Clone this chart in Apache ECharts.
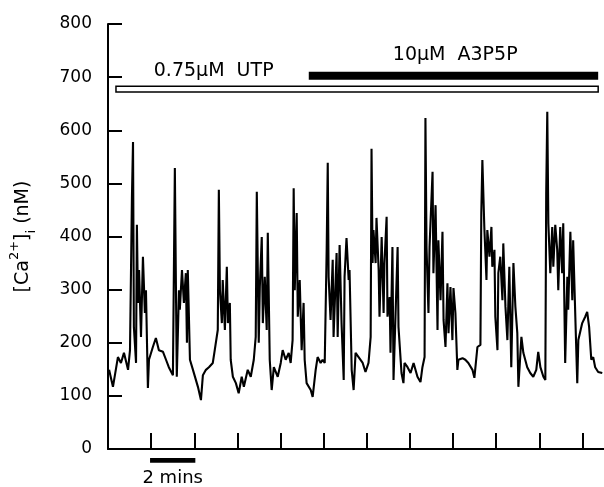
<!DOCTYPE html>
<html>
<head>
<meta charset="utf-8">
<script src="https://cdn.jsdelivr.net/npm/echarts@6/dist/echarts.min.js"></script>
<style>
html, body { margin: 0; padding: 0; background: #fff; }
#main { width: 604px; height: 487px; }
</style>
</head>
<body>
<div id="main"></div>
<script>
// time in minutes, [Ca2+]i in nM
var timeMin = [
  0.05, 0.23, 0.46, 0.60, 0.74, 0.93, 1.02, 1.11, 1.16, 1.20, 1.30, 1.34, 1.39, 1.44, 1.53, 1.62, 1.71, 1.76, 1.85, 1.90,
  2.08, 2.22, 2.36, 2.55, 2.69, 2.82, 3.01, 3.06, 3.10, 3.15, 3.19, 3.29, 3.33, 3.43, 3.52, 3.61, 3.66, 3.70, 3.80, 3.94,
  4.17, 4.31, 4.40, 4.54, 4.68,
  4.86, 4.95, 5.09, 5.14, 5.19, 5.28, 5.32, 5.42, 5.51, 5.56, 5.65, 5.69, 5.79, 5.93, 6.06, 6.20, 6.30, 6.48, 6.62, 6.76,
  6.85, 6.90, 6.99, 7.04, 7.13, 7.18, 7.27, 7.36, 7.41, 7.50, 7.59, 7.69, 7.87, 8.01, 8.10, 8.24, 8.38, 8.47, 8.56, 8.61,
  8.66, 8.75, 8.80, 8.89, 8.98, 9.07, 9.12, 9.21, 9.40, 9.49,
  9.63, 9.72, 9.86, 9.95, 10.05, 10.14, 10.19, 10.23, 10.32, 10.42, 10.46, 10.60, 10.65, 10.74, 10.83, 10.93, 10.97, 11.06,
  11.16, 11.20, 11.30, 11.39, 11.48, 11.62, 11.81, 11.94, 12.08, 12.18, 12.22, 12.27, 12.31, 12.41, 12.45, 12.55, 12.59,
  12.69, 12.78, 12.82, 12.92, 12.96, 13.06, 13.10, 13.19, 13.24, 13.33, 13.43, 13.47, 13.61, 13.70, 13.75, 13.89,
  14.03, 14.17, 14.35, 14.49, 14.58, 14.68, 14.72, 14.77, 14.86, 14.91, 15.05, 15.09, 15.19, 15.28, 15.32, 15.42, 15.51,
  15.56, 15.65, 15.74, 15.79, 15.88, 15.97, 16.02, 16.11, 16.20, 16.25, 16.44, 16.57, 16.71, 16.90, 16.99, 17.13, 17.27,
  17.31, 17.36, 17.45, 17.55, 17.59, 17.69, 17.78, 17.82, 17.92, 17.96, 18.06, 18.10,
  18.19, 18.29, 18.33, 18.43, 18.52, 18.61, 18.70, 18.80, 18.89, 18.98, 19.03, 19.17, 19.26, 19.44, 19.58, 19.72, 19.86,
  19.95, 20.05, 20.19, 20.28, 20.32, 20.37, 20.42, 20.51, 20.60, 20.65, 20.74, 20.83, 20.88, 20.97, 21.06, 21.11, 21.20,
  21.30, 21.34, 21.44, 21.53, 21.57, 21.67, 21.76, 21.81, 21.99, 22.13, 22.22, 22.31, 22.41, 22.50, 22.59, 22.73, 22.92
];
var caNM = [
  149, 117, 173, 162, 181, 149, 186, 475, 578, 230, 162, 422, 275, 337, 211, 362, 256, 299, 115, 168,
  192, 209, 186, 183, 168, 154, 139, 136, 529, 305, 136, 299, 262, 337, 275, 331, 200, 337, 168, 149,
  117, 92, 139, 149, 154,
  162, 186, 224, 488, 299, 237, 318, 224, 343, 237, 275, 168, 136, 124, 105, 136, 117, 149, 136, 168,
  211, 484, 200, 305, 399, 237, 324, 224, 407, 168, 111, 154, 136, 162, 186, 168, 181, 162, 205, 491,
  299, 444, 249, 318, 186, 275, 168, 124, 111, 98,
  149, 173, 162, 168, 162, 375, 539, 324, 243, 356, 211, 369, 211, 384, 237, 130, 324, 397,
  318, 337, 149, 111, 181, 173, 162, 145, 162, 211, 565, 350, 412, 350, 435, 337, 249,
  399, 256, 350, 437, 249, 286, 181, 380, 130, 249, 380, 230, 143, 124, 162, 154,
  143, 162, 136, 126, 154, 173, 623, 380, 256, 380, 522, 331, 459, 224, 393, 280, 409,
  243, 192, 312, 218, 305, 205, 303, 256, 149, 168, 171, 168, 162, 149, 134, 192, 196,
  444, 544, 418, 318, 412, 362, 418, 343, 375, 249, 186, 331,
  362, 280, 387, 268, 205, 343, 154, 350, 268, 218, 117, 211, 181, 154, 143, 136, 149,
  183, 154, 136, 130, 482, 635, 425, 331, 418, 343, 422, 375, 299, 418, 331, 425, 162,
  324, 262, 409, 280, 393, 249, 124, 205, 237, 249, 258, 230, 168, 173, 154, 145, 143
];

var yTicks = [0, 100, 200, 300, 400, 500, 600, 700, 800];
var xTicks = [2, 4, 6, 8, 10, 12, 14, 16, 18, 20, 22];
var xMax = 23;

// treatment bars: [tStart, tEnd, lowNM, highNM]
var utpBar = [0.37, 22.73, 672, 683];
var a3p5pBar = [9.31, 22.73, 695, 710];
// labels: [t, nM, text]
var utpLabel = [4.9, 711, '0.75\u03bcM  UTP'];
var a3p5pLabel = [16.1, 742, '10\u03bcM  A3P5P'];
// 2 min scale bar under the axis
var scaleBar = [1.95, 4.05, -26, -17];
var scaleLabel = [3.0, -55, '2 mins'];

var FONT = 'DejaVu Sans';

var dom = document.getElementById('main');
var chart = echarts.init(dom, null, { renderer: 'canvas' });

var points = [];
for (var i = 0; i < timeMin.length; i++) {
  points.push([timeMin[i], caNM[i]]);
}

var option = {
  animation: false,
  backgroundColor: '#fff',
  grid: { left: 107, right: 0, top: 24, bottom: 38 },
  xAxis: {
    type: 'value',
    min: 0,
    max: xMax,
    interval: 2,
    axisLine: { show: true, lineStyle: { color: '#000', width: 2 } },
    axisTick: { show: true, inside: true, length: 16, customValues: xTicks,
                lineStyle: { color: '#000', width: 2 } },
    axisLabel: { show: false },
    splitLine: { show: false }
  },
  yAxis: {
    type: 'value',
    min: yTicks[0],
    max: yTicks[yTicks.length - 1],
    interval: yTicks[1] - yTicks[0],
    axisLine: { show: true, lineStyle: { color: '#000', width: 2 } },
    axisTick: { show: true, inside: true, length: 14, lineStyle: { color: '#000', width: 2 } },
    axisLabel: { color: '#000', fontSize: 17, fontFamily: FONT, margin: 16 },
    splitLine: { show: false },
    name: '{t|[Ca}{sup|2+}{t|]}{sub|i}{t| (nM)}',
    nameLocation: 'middle',
    nameRotate: 90,
    nameGap: 70,
    nameTextStyle: {
      rich: {
        t: { fontSize: 19, fontFamily: FONT, color: '#000', lineHeight: 30, verticalAlign: 'middle' },
        sup: { fontSize: 13, fontFamily: FONT, color: '#000', lineHeight: 13, verticalAlign: 'top' },
        sub: { fontSize: 13, fontFamily: FONT, color: '#000', lineHeight: 13, verticalAlign: 'bottom' }
      }
    }
  },
  series: [{
    type: 'line',
    data: points,
    showSymbol: false,
    symbol: 'none',
    lineStyle: { color: '#000', width: 2.1, join: 'bevel' },
    clip: false
  }]
};

chart.setOption(option);

function px(t, v) {
  return chart.convertToPixel({ gridIndex: 0 }, [t, v]);
}
function barRect(b, fill, lw) {
  var p1 = px(b[0], b[3]);
  var p2 = px(b[1], b[2]);
  return {
    type: 'rect',
    shape: { x: p1[0], y: p1[1], width: p2[0] - p1[0], height: p2[1] - p1[1] },
    style: { fill: fill, stroke: '#000', lineWidth: lw }
  };
}
function label(l, size) {
  var p = px(l[0], l[1]);
  return {
    type: 'text',
    x: p[0], y: p[1],
    style: { text: l[2], fill: '#000', fontSize: size, fontFamily: FONT,
             align: 'center', verticalAlign: 'middle' }
  };
}

chart.setOption({
  graphic: [
    barRect(utpBar, '#fff', 1.5),
    barRect(a3p5pBar, '#000', 0),
    label(utpLabel, 19),
    label(a3p5pLabel, 19),
    barRect(scaleBar, '#000', 0),
    label(scaleLabel, 18)
  ]
});

window.onresize = function () {
  chart.resize();
};
</script>
</body>
</html>
